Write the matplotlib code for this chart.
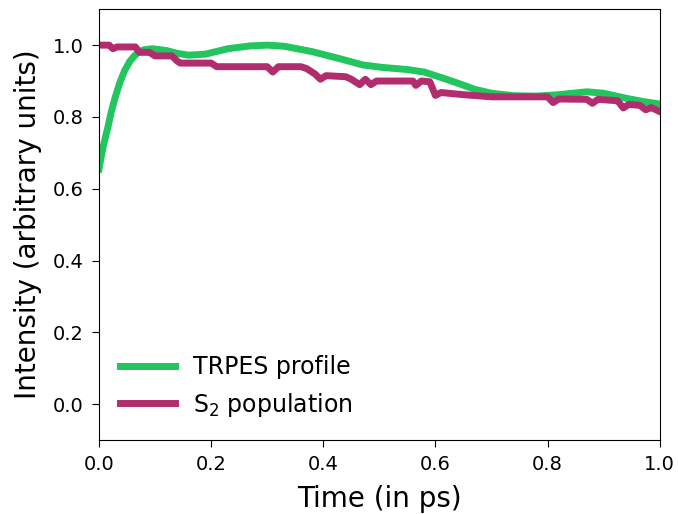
import matplotlib
matplotlib.use("Agg")
import matplotlib.pyplot as plt

# TRPES profile
trpes_t = [0.0, 0.004, 0.008, 0.012, 0.016, 0.022, 0.029, 0.037, 0.046, 0.055,
           0.064, 0.072, 0.08, 0.095, 0.12, 0.14,
           0.16, 0.19, 0.23, 0.27, 0.3, 0.33, 0.38, 0.43, 0.47, 0.505,
           0.55, 0.58, 0.61, 0.64, 0.67, 0.7, 0.74, 0.78, 0.82, 0.87,
           0.9, 0.94, 0.97, 1.0]
trpes_y = [0.655, 0.69, 0.72, 0.747, 0.772, 0.815, 0.855, 0.895, 0.93, 0.955,
           0.972, 0.982, 0.987, 0.99, 0.985, 0.977,
           0.972, 0.975, 0.99, 0.998, 1.0, 0.997, 0.982, 0.962, 0.945, 0.938,
           0.932, 0.925, 0.91, 0.894, 0.877, 0.866, 0.859, 0.858, 0.862, 0.87,
           0.866, 0.852, 0.843, 0.836]

# S2 population
s2_t = [0.0, 0.018, 0.025, 0.032, 0.065, 0.072, 0.09, 0.095, 0.1, 0.13,
        0.14, 0.145, 0.2, 0.21, 0.3, 0.31, 0.32, 0.36, 0.37, 0.385,
        0.395, 0.405, 0.44, 0.45, 0.465, 0.475, 0.485, 0.495, 0.56, 0.565,
        0.575, 0.59, 0.6, 0.61, 0.65, 0.7, 0.8, 0.81, 0.82, 0.87,
        0.88, 0.89, 0.925, 0.935, 0.945, 0.965, 0.975, 0.985, 1.0]
s2_y = [1.0, 1.0, 0.99, 0.995, 0.995, 0.98, 0.98, 0.975, 0.97, 0.97,
        0.955, 0.95, 0.95, 0.94, 0.94, 0.925, 0.94, 0.94, 0.935, 0.92,
        0.905, 0.915, 0.912, 0.905, 0.89, 0.905, 0.89, 0.9, 0.9, 0.888,
        0.9, 0.898, 0.86, 0.868, 0.862, 0.856, 0.856, 0.84, 0.85, 0.849,
        0.838, 0.849, 0.845, 0.825, 0.835, 0.832, 0.82, 0.826, 0.815]

fig = plt.figure(figsize=(6.78, 5.14), dpi=100)
ax = fig.add_axes([0.146, 0.144, 0.827, 0.838])

ax.plot(trpes_t, trpes_y, color="#22c55e", lw=5, label="TRPES profile",
        solid_joinstyle="round")
ax.plot(s2_t, s2_y, color="#b22d6e", lw=5, label="S$_2$ population",
        solid_joinstyle="round")

ax.set_xlim(0, 1)
ax.set_ylim(-0.1, 1.1)
ax.set_xticks([0.0, 0.2, 0.4, 0.6, 0.8, 1.0])
ax.set_yticks([0.0, 0.2, 0.4, 0.6, 0.8, 1.0])
ax.tick_params(labelsize=14, length=5, pad=6)
ax.set_xlabel("Time (in ps)", fontsize=20, labelpad=8)
ax.set_ylabel("Intensity (arbitrary units)", fontsize=20, labelpad=8)
ax.legend(loc="lower left", frameon=False, fontsize=17, handlelength=2.3)

fig.savefig("out.png", dpi=100)
